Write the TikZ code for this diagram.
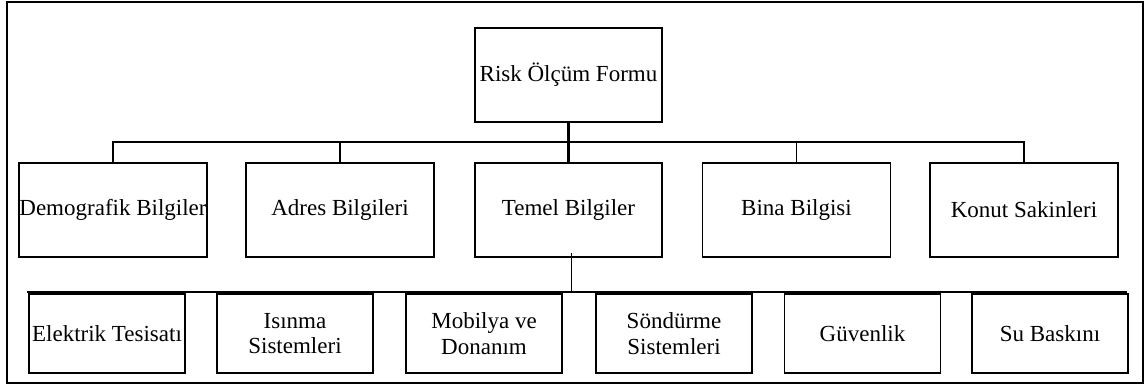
\documentclass[tikz,border=0pt]{standalone}
\usepackage{fontspec}
\setmainfont{Liberation Serif}
\begin{document}
\begin{tikzpicture}[x=1pt,y=-1pt,
  box/.style={draw=black, line width=1.6pt, inner sep=0pt, outer sep=0pt, align=center,
    font=\fontsize{23}{25.5}\selectfont},
  lvltwo/.style={box, minimum width=188pt, minimum height=94pt},
  lvlthree/.style={box, minimum width=156pt, minimum height=79pt},
  conn/.style={draw=black, line width=1.6pt}]
\useasboundingbox (0,0) rectangle (1148,387);
\draw[line width=1.8pt] (7,2) rectangle (1143,383);
% root
\node[box, minimum width=187pt, minimum height=94pt] (root) at (568.5,75) {Risk Ölçüm Formu};
% level 2
\node[lvltwo] (demo)  at (113,210)   {Demografik Bilgiler};
\node[lvltwo] (adres) at (340,210)   {Adres Bilgileri};
\node[lvltwo, minimum width=187pt] (temel) at (568.5,210) {Temel Bilgiler};
\node[lvltwo] (bina)  at (796.5,210) {Bina Bilgisi};
\node[lvltwo] (konut) at (1024,210)  {Konut Sakinleri};
% level 3
\node[lvlthree] (elek) at (107,333.5)  {Elektrik Tesisatı};
\node[lvlthree] (isin) at (295,333.5)  {Isınma\\Sistemleri};
\node[lvlthree] (mob)  at (484,333.5)  {Mobilya ve\\Donanım};
\node[lvlthree] (sond) at (674,333.5)  {Söndürme\\Sistemleri};
\node[lvlthree] (guv)  at (862.5,333.5){Güvenlik};
\node[lvlthree] (su)   at (1050,333.5) {Su Baskını};
% connectors level 1-2
\coordinate (bus) at (568.5,142);
\draw[conn] (demo.north) -- (demo.north |- bus) -- (konut.north |- bus) -- (konut.north);
\draw[conn] (adres.north) -- (adres.north |- bus);
\draw[conn] (bina.north) -- (bina.north |- bus);
\draw[conn, line width=2.4pt] (root.south) -- (temel.north);
% connectors level 2-3
\coordinate (l3a) at (27,292);
\coordinate (l3b) at (1127,292);
\draw[conn] (l3a) -- (l3b);
\draw[conn] ([xshift=3pt,yshift=4pt]temel.south) -- ([xshift=3pt]temel.south |- l3a);
\end{tikzpicture}
\end{document}
